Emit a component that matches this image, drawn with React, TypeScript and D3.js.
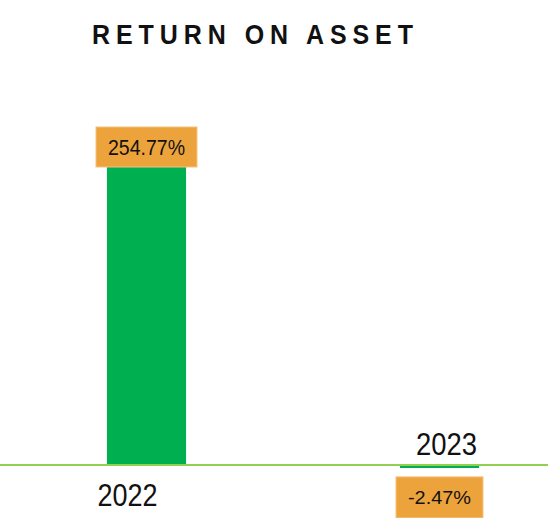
import React from "react";
import * as d3 from "d3";

const categories = ["2022", "2023"];
const values = [254.77, -2.47];
const valueLabels = ["254.77%", "-2.47%"];

const W = 548;
const H = 518;

const App = () => {
  const x = d3.scaleBand().domain(categories).range([0, 586]).paddingInner(0.73).paddingOuter(0.365);
  const y = d3.scaleLinear().domain([0, 254.77]).range([465, 167]);
  const font = "'Liberation Sans', Arial, sans-serif";
  const labelW = [77, 63];
  const catW = [60, 61];

  return (
    <div style={{ position: "fixed", left: 0, top: 0 }}>
      <svg width={W} height={H} style={{ display: "block", background: "#fff" }}>
        <text
          x={92}
          y={0}
          transform="translate(0,44) scale(1,1.12)"
          fontFamily={font}
          fontWeight="bold"
          fontSize={25}
          textLength={321}
          lengthAdjust="spacing"
          fill="#111"
        >
          RETURN ON ASSET
        </text>
        {categories.map((c, i) => {
          const v = values[i];
          const bx = x(c) as number;
          const bw = x.bandwidth();
          const cx = bx + bw / 2;
          const top = y(Math.max(0, v));
          const bot = y(Math.min(0, v));
          const boxW = labelW[i] + 24;
          const boxY = v >= 0 ? top - 40 : bot + 9;
          const boxH = v >= 0 ? 40 : 41;
          return (
            <g key={c}>
              <rect x={bx} y={top} width={bw} height={Math.max(bot - top, 3)} fill="#00B050" />
              <rect x={cx - boxW / 2} y={boxY} width={boxW} height={boxH} fill="#EDA33B" stroke="#F5C27E" strokeWidth={1} />
              <text
                x={cx}
                y={boxY + boxH / 2}
                dy="0.36em"
                textAnchor="middle"
                fontFamily={font}
                fontSize={v >= 0 ? 22 : 18}
                textLength={labelW[i]}
                lengthAdjust="spacingAndGlyphs"
                fill="#111"
              >
                {valueLabels[i]}
              </text>
              <text
                x={v >= 0 ? cx - 19 : cx + 7}
                y={v >= 0 ? 506 : 455}
                textAnchor="middle"
                fontFamily={font}
                fontSize={31}
                textLength={catW[i]}
                lengthAdjust="spacingAndGlyphs"
                fill="#111"
              >
                {c}
              </text>
            </g>
          );
        })}
        <line x1={0} x2={W} y1={y(0)} y2={y(0)} stroke="#92D050" strokeWidth={2} />
      </svg>
    </div>
  );
};

export default App;
